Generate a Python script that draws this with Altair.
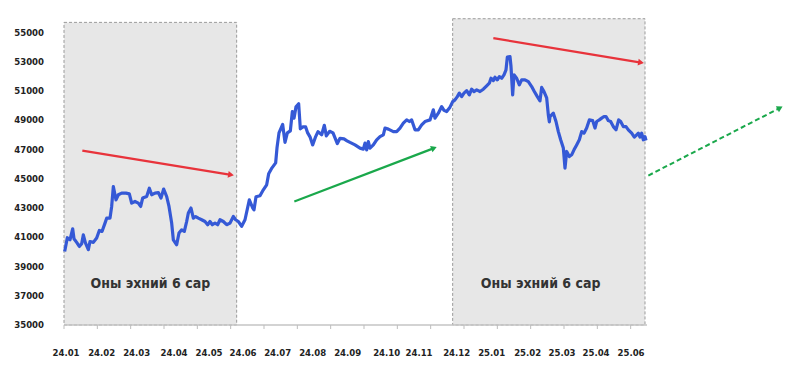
import math
import altair as alt
import pandas as pd

# ---------------- data ----------------
# x in month units (0 = 24.01 tick), value = index level
T = [
    0.02, 0.06, 0.10, 0.18, 0.26, 0.30, 0.38, 0.46, 0.53, 0.58,
    0.64, 0.73, 0.78, 0.88, 0.98, 1.06, 1.14, 1.23, 1.28, 1.38,
    1.43, 1.48, 1.56, 1.63, 1.73, 1.86, 1.96, 2.03, 2.13, 2.23,
    2.30, 2.36, 2.48, 2.56, 2.63, 2.73, 2.83, 2.91, 2.99, 3.08,
    3.15, 3.23, 3.28, 3.38, 3.45, 3.53, 3.61, 3.68, 3.73, 3.81,
    3.88, 3.95, 4.03, 4.13, 4.23, 4.31, 4.38, 4.45, 4.53, 4.61,
    4.68, 4.78, 4.88, 4.98, 5.08, 5.15, 5.23, 5.33, 5.43, 5.56,
    5.66, 5.70, 5.76, 5.88, 5.98, 6.08, 6.14, 6.24, 6.35, 6.39,
    6.45, 6.56, 6.63, 6.70, 6.79, 6.85, 6.90, 6.96, 7.04, 7.09,
    7.16, 7.25, 7.31, 7.38, 7.46, 7.55, 7.62, 7.73, 7.81, 7.87,
    7.97, 8.07, 8.20, 8.28, 8.40, 8.49, 8.58, 8.73, 8.88, 8.98,
    9.03, 9.08, 9.13, 9.18, 9.28, 9.38, 9.48, 9.58, 9.63, 9.73,
    9.88, 9.98, 10.08, 10.18, 10.28, 10.36, 10.43, 10.53, 10.63, 10.73,
    10.83, 10.98, 11.08, 11.13, 11.23, 11.33, 11.40, 11.48, 11.58, 11.66,
    11.73, 11.80, 11.86, 11.93, 12.00, 12.08, 12.16, 12.23, 12.30, 12.38,
    12.48, 12.58, 12.68, 12.76, 12.81, 12.88, 12.93, 13.00, 13.06, 13.13,
    13.20, 13.26, 13.30, 13.38, 13.41, 13.46, 13.50, 13.58, 13.66, 13.73,
    13.83, 13.93, 14.03, 14.11, 14.20, 14.28, 14.33, 14.40, 14.48, 14.53,
    14.56, 14.58, 14.68, 14.76, 14.83, 14.90, 14.98, 15.03, 15.08, 15.16,
    15.23, 15.30, 15.38, 15.46, 15.53, 15.60, 15.68, 15.76, 15.86, 15.93,
    15.98, 16.06, 16.13, 16.20, 16.26, 16.33, 16.40, 16.48, 16.56, 16.64,
    16.70, 16.78, 16.86, 16.93, 17.03, 17.11, 17.18, 17.23, 17.28, 17.33,
    17.38, 17.43, 17.46,
]
V = [
    40030, 40490, 40970, 40830, 41580, 40900, 40650, 40370, 40560, 41170,
    40630, 40150, 40710, 40650, 40950, 41470, 41400, 41970, 42310, 42310,
    43110, 44470, 43560, 43910, 44020, 44020, 43970, 43340, 43450, 43340,
    43110, 43680, 43790, 44360, 43910, 44020, 44060, 43680, 44300, 43790,
    43110, 41970, 40830, 40490, 41290, 41510, 41400, 42080, 42660, 43000,
    42310, 42420, 42310, 42200, 42080, 41860, 42080, 41860, 41970, 41860,
    42200, 42080, 41860, 41970, 42420, 42200, 42080, 41750, 42200, 43560,
    43020, 42880, 43770, 43840, 44250, 44590, 45340, 45750, 46090, 47120,
    48140, 48720, 47490, 48140, 48280, 49600, 49150, 49920, 50130, 48420,
    48550, 48550, 48140, 47870, 47320, 47890, 48230, 48010, 48660, 47940,
    48250, 48140, 47410, 47770, 47730, 47600, 47490, 47320, 47100, 47030,
    47440, 46980, 47550, 47100, 47320, 47670, 47890, 48010, 48470, 48400,
    48230, 48230, 48470, 48810, 49030, 48920, 49030, 48350, 48350, 48690,
    48920, 49030, 49720, 49150, 49490, 49940, 49680, 49600, 49900, 50280,
    50400, 50620, 50860, 50620, 50860, 51030, 50740, 51130, 50970, 51080,
    50970, 51130, 51360, 51540, 51880, 51720, 51950, 51770, 51990, 51880,
    52110, 52450, 53320, 53360, 52680, 50740, 52110, 51880, 51430, 51770,
    51770, 51650, 51310, 50970, 50620, 50330, 51250, 50970, 50540, 49370,
    48900, 49260, 49490, 48920, 48230, 47670, 47100, 45730, 46870, 46520,
    46640, 46980, 47320, 47670, 48230, 48120, 48470, 49030, 48980, 48470,
    48920, 49030, 49150, 49260, 49260, 48980, 48920, 48570, 48350, 49030,
    48920, 48570, 48570, 48350, 48120, 47850, 48010, 48120, 47850, 48120,
    47670, 47890, 47620,
]

X_LABELS = ["24.01", "24.02", "24.03", "24.04", "24.05", "24.06", "24.07", "24.08",
            "24.09", "24.10", "24.11", "24.12", "25.01", "25.02", "25.03", "25.04", "25.06"]
X_LABEL_POS = [0.06, 1.13, 2.18, 3.30, 4.35, 5.37, 6.41, 7.46, 8.51, 9.68, 10.65,
               11.78, 12.83, 13.91, 14.94, 15.96, 17.01]
TICK_POS = list(range(0, 18))
Y_TICKS = list(range(35000, 55001, 2000))

# shaded "first 6 months" windows
BOX_START = [0.0, 11.66]
BOX_END = [5.18, 17.43]
BOX_TOP = [55700, 55950]
BOX_BOTTOM = [35000, 35000]
BOX_TEXT = ["Оны эхний 6 сар", "Оны эхний 6 сар"]
BOX_TEXT_T = [2.59, 14.3]
BOX_TEXT_V = [37820, 37820]

# trend arrows (start t, start v, end t, end v)
ARROW_T0 = [0.55, 12.88, 6.91, 17.53]
ARROW_V0 = [46930, 54620, 43450, 45225]
ARROW_T1 = [5.01, 17.31, 11.10, 21.48]
ARROW_V1 = [45270, 52950, 47100, 49850]
ARROW_KIND = ["red", "red", "green", "green_dash"]

# ---------------- styling ----------------
W, H = 583, 307
XDOM = [0, 17.49]
YDOM = [35000, 56000]
FONT = "Liberation Sans Narrow, DejaVu Sans Condensed, Roboto, sans-serif"
BLUE = "#3559d6"
RED = "#e8333b"
GREEN = "#1aa84b"
COLORS = {"red": RED, "green": GREEN, "green_dash": GREEN}

xpx = W / (XDOM[1] - XDOM[0])
ypx = H / (YDOM[1] - YDOM[0])

line_df = pd.DataFrame({"t": T, "v": V})
box_df = pd.DataFrame({"t0": BOX_START, "t1": BOX_END, "v0": BOX_BOTTOM, "v1": BOX_TOP})
txt_df = pd.DataFrame({"t": BOX_TEXT_T, "v": BOX_TEXT_V, "label": BOX_TEXT})
arr_df = pd.DataFrame({"t0": ARROW_T0, "v0": ARROW_V0, "t1": ARROW_T1, "v1": ARROW_V1,
                       "kind": ARROW_KIND})
arr_df["color"] = arr_df["kind"].map(COLORS)
arr_df["ang"] = [
    (math.degrees(math.atan2(-(b1 - b0) * ypx, (a1 - a0) * xpx)) + 360) % 360
    for a0, b0, a1, b1 in zip(ARROW_T0, ARROW_V0, ARROW_T1, ARROW_V1)
]
tick_df = pd.DataFrame({"t": TICK_POS})
xlab_df = pd.DataFrame({"t": X_LABEL_POS, "label": X_LABELS})
ylab_df = pd.DataFrame({"v": Y_TICKS, "label": [str(y) for y in Y_TICKS]})

xscale = alt.Scale(domain=XDOM, nice=False, zero=False)
yscale = alt.Scale(domain=YDOM, nice=False, zero=False)


def X(field):
    return alt.X(field, scale=xscale, axis=None)


def Y(field):
    return alt.Y(field, scale=yscale, axis=None)


boxes = alt.Chart(box_df).mark_rect(
    fill="#e7e7e7", stroke="#9b9b9b", strokeDash=[3, 2], strokeWidth=1
).encode(x=X("t0:Q"), x2="t1:Q", y=Y("v0:Q"), y2="v1:Q")

# x axis line and tick marks
axis_line = alt.Chart(pd.DataFrame({"a": [XDOM[0]], "b": [XDOM[1]]})).mark_rule(
    color="#c4c4c4", strokeWidth=1.5
).encode(x=X("a:Q"), x2="b:Q", y=alt.value(H))

ticks = alt.Chart(tick_df).mark_rule(color="#bdbdbd", strokeWidth=1).encode(
    x=X("t:Q"), y=alt.value(H), y2=alt.value(H + 4),
)

xlabels = alt.Chart(xlab_df).mark_text(
    font=FONT, fontSize=9.5, fontWeight="bold", color="#222222", align="center",
    baseline="middle", dy=28
).encode(x=X("t:Q"), y=alt.value(H), text="label:N")

ylabels = alt.Chart(ylab_df).mark_text(
    font=FONT, fontSize=9.5, fontWeight="bold", color="#222222", align="right",
    baseline="middle", dx=-20
).encode(x=alt.value(0), y=Y("v:Q"), text="label:N")

line = alt.Chart(line_df).mark_line(color=BLUE, strokeWidth=3.2, strokeJoin="round").encode(
    x=X("t:Q"), y=Y("v:Q"),
)

texts = alt.Chart(txt_df).mark_text(
    font=FONT, fontSize=14, fontWeight="bold", color="#333333", align="center",
    baseline="middle"
).encode(x=X("t:Q"), y=Y("v:Q"), text="label:N")

solid = alt.Chart(arr_df).transform_filter("datum.kind != 'green_dash'").mark_rule(
    strokeWidth=2.2
).encode(
    x=X("t0:Q"), x2="t1:Q", y=Y("v0:Q"), y2="v1:Q",
    color=alt.Color("color:N", scale=None),
)

dashed = alt.Chart(arr_df).transform_filter("datum.kind == 'green_dash'").mark_rule(
    strokeWidth=2, strokeDash=[5, 3]
).encode(
    x=X("t0:Q"), x2="t1:Q", y=Y("v0:Q"), y2="v1:Q",
    color=alt.Color("color:N", scale=None),
)

heads = alt.Chart(arr_df).mark_point(
    shape="triangle-right", filled=True, size=45, opacity=1
).encode(
    x=X("t1:Q"), y=Y("v1:Q"),
    angle=alt.Angle("ang:Q", scale=None),
    color=alt.Color("color:N", scale=None),
)

chart = alt.layer(
    boxes, axis_line, ticks, xlabels, ylabels, texts, line, solid, dashed, heads
).properties(
    width=W, height=H,
    autosize=alt.AutoSizeParams(type="none"),
    padding={"left": 64, "top": 18, "right": 153, "bottom": 52},
    background="white",
).configure_view(stroke=None)

chart.save("out.html", embed_options={"renderer": "svg", "actions": False})
